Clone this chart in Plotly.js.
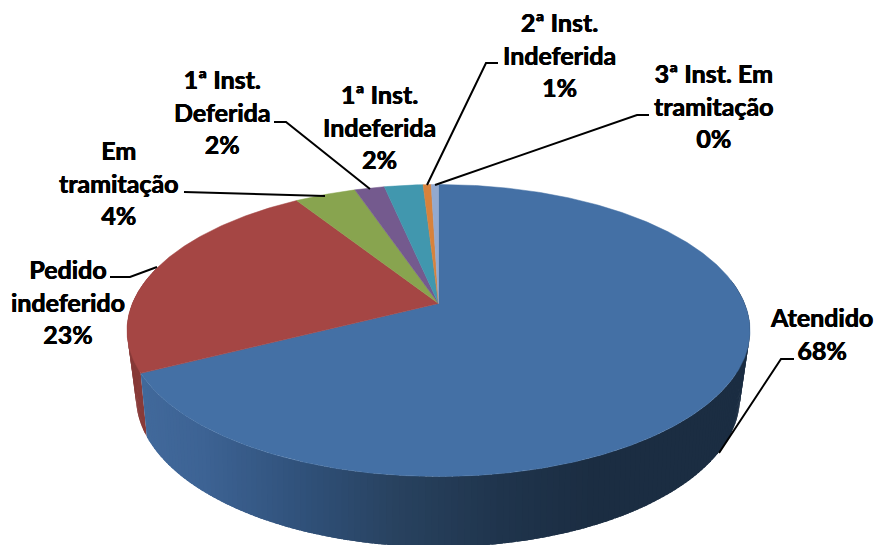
<!DOCTYPE html>
<html><head><meta charset="utf-8">
<script src="https://cdn.plot.ly/plotly-3.0.1.min.js"></script>
<style>html,body{margin:0;padding:0;background:#fff}#c{width:874px;height:545px}</style>
</head><body><div id="c"></div>
<script>
var categories = ["Atendido","Pedido indeferido","Em tramitação","1ª Inst. Deferida","1ª Inst. Indeferida","2ª Inst. Indeferida","3ª Inst. Em tramitação"];
var values = [67.5,23.5,3.8,1.85,2.4,0.5,0.45];
var percentLabels = ["68%","23%","4%","2%","2%","1%","0%"];
var labelLines = [["Atendido"],["Pedido","indeferido"],["Em","tramitação"],["1ª Inst.","Deferida"],["1ª Inst.","Indeferida"],["2ª Inst.","Indeferida"],["3ª Inst. Em","tramitação"]];
var topColors = ["#4470a5","#a54644","#88a44f","#745a8e","#4197ae","#d8823c","#93a9cf"];

// layout of the tilted disc, in the pixel units of the axes
var topDisc = {cx:438.5,cy:330.5,a:311.5,b:146,k:-0.185};
var lowDisc = {cx:438,cy:397,a:302,b:150,k:-0.214};
var labelPos = [[821,333.5],[68,301.5],[119,182.5],[222,111.5],[379,126.5],[559,54.5],[714,105.5]];
var leaders = [
  [[794,359],[781,359],[719,453]],
  [[110,277],[130,277],[157,267]],
  [[184,192],[325,196]],
  [[274,122],[286,122],[370,189]],
  [],
  [[498,63],[486,63],[427,185]],
  [[649,115],[637,115],[435,185]]
];
var blueWall = [[140,[65,105,155]],[200,[61,99,148]],[300,[48,81,122]],[395,[40,66,95]],[500,[31,52,76]],[590,[27,45,66]],[760,[27,45,66]]];

function project(d,deg){
  var t=deg*Math.PI/180, x=Math.sin(t), y=-Math.cos(t), den=1+d.k*y;
  return [d.cx+d.a*x*Math.sqrt(1-d.k*d.k)/den, d.cy+d.b*(y+d.k)/den];
}
function wallColor(i,x){
  if(i===1){ var f=Math.max(0,Math.min(1,(x-125)/30)); return 'rgb('+Math.round(134+8*f)+','+Math.round(58+2*f)+','+Math.round(56+2*f)+')'; }
  for(var s=0;s<blueWall.length-1;s++){
    var A=blueWall[s],B=blueWall[s+1];
    if(x<=B[0]){ var r=Math.max(0,(x-A[0])/(B[0]-A[0])); return 'rgb('+[0,1,2].map(function(c){return Math.round(A[1][c]+(B[1][c]-A[1][c])*r)}).join(',')+')'; }
  }
  return 'rgb(27,45,66)';
}
var traces=[];
var total=values.reduce(function(a,b){return a+b},0);
var edges=[0]; values.forEach(function(v){edges.push(edges[edges.length-1]+v/total*360)});

// side wall, strip by strip; each strip runs a little under the next so no seam shows
[1,0].forEach(function(i){
  var from=Math.max(edges[i],80), to=Math.min(edges[i+1],285), step=1;
  for(var th=from;th<to;th+=step){
    var e=Math.min(th+step+0.8,to), p=project(topDisc,th), q=project(topDisc,e), r=project(lowDisc,e), s=project(lowDisc,th);
    var col=wallColor(i,(p[0]+q[0])/2);
    traces.push({type:'scatter',mode:'lines',x:[p[0],q[0],r[0],s[0],p[0]],y:[p[1],q[1],r[1],s[1],p[1]],fill:'toself',fillcolor:col,line:{color:col,width:0},hoverinfo:'skip',showlegend:false});
  }
});
// top surface
values.forEach(function(v,i){
  var c=[topDisc.cx,topDisc.cy+topDisc.b*topDisc.k];
  var xs=[c[0]],ys=[c[1]];
  var n=Math.max(2,Math.ceil((edges[i+1]-edges[i])/0.5));
  for(var j=0;j<=n;j++){var p=project(topDisc,edges[i]+(edges[i+1]-edges[i])*j/n);xs.push(p[0]);ys.push(p[1]);}
  xs.push(c[0]);ys.push(c[1]);
  traces.push({type:'scatter',mode:'lines',name:categories[i],x:xs,y:ys,fill:'toself',fillcolor:topColors[i],line:{color:topColors[i],width:0.5},hoverinfo:'name',showlegend:false});
});

var annotations=categories.map(function(cat,i){
  return {x:labelPos[i][0],y:labelPos[i][1],xref:'x',yref:'y',xanchor:'center',yanchor:'middle',align:'center',showarrow:false,
    text:labelLines[i].concat([percentLabels[i]]).join('<br>'),
    font:{family:'Lato, Carlito, sans-serif',size:25,color:'#000',weight:700,shadow:'0.35px 0 0 #000, -0.35px 0 0 #000'}};
});
var shapes=leaders.filter(function(l){return l.length}).map(function(l){
  return {type:'path',xref:'x',yref:'y',path:l.map(function(p,j){return (j?'L':'M')+p[0]+','+p[1]}).join(' '),line:{color:'#000',width:2}};
});
Plotly.newPlot('c',traces,{
  width:874,height:545,margin:{l:0,r:0,t:0,b:0},paper_bgcolor:'#fff',plot_bgcolor:'#fff',showlegend:false,
  xaxis:{range:[0,874],visible:false,fixedrange:true},
  yaxis:{range:[545,0],visible:false,fixedrange:true},
  annotations:annotations,shapes:shapes
},{displayModeBar:false,staticPlot:true});
</script></body></html>
